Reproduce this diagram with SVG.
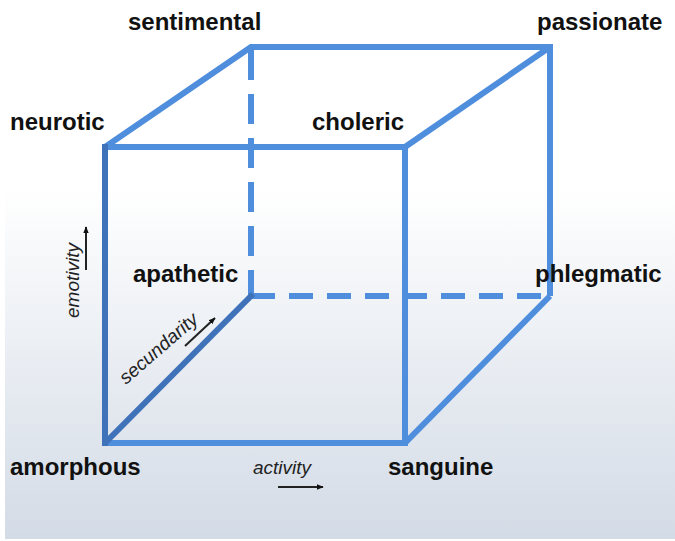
<svg xmlns="http://www.w3.org/2000/svg" width="675" height="541" viewBox="0 0 675 541">
<defs>
<linearGradient id="bg" x1="0" y1="0" x2="0" y2="1">
<stop offset="0" stop-color="#ffffff"/>
<stop offset="0.35" stop-color="#ffffff"/>
<stop offset="1" stop-color="#d3dbe6"/>
</linearGradient>
<marker id="arr" viewBox="0 0 10 10" refX="9" refY="5" markerWidth="3.5" markerHeight="3.5" orient="auto" markerUnits="strokeWidth">
<path d="M0,1 L10,5 L0,9 Z" fill="#111"/>
</marker>
<style>
.e{stroke:#4f8ddd;stroke-width:6;fill:none;stroke-linecap:butt;stroke-linejoin:miter}
.d{stroke:#3f72b8}
.lbl{font-family:"Liberation Sans",Arial,sans-serif;font-weight:bold;font-size:24px;fill:#111}
.ax{font-family:"Liberation Sans",Arial,sans-serif;font-style:italic;font-size:19px;fill:#222}
.ar{stroke:#222;stroke-width:2;fill:none;marker-end:url(#arr)}
</style>
</defs>
<rect x="0" y="0" width="675" height="541" fill="#ffffff"/>
<rect x="5" y="0" width="670" height="539" fill="url(#bg)"/>
<g id="connectors">
<line class="e" x1="251" y1="50" x2="251" y2="296" style="stroke-dasharray:30 14"/>
<line class="e" x1="251" y1="296" x2="550" y2="296" style="stroke-dasharray:24 14"/>
<path class="e" d="M105,147 L251,47 L550,47 L550,296"/>
<path class="e" d="M405,147 L550,47"/>
<path class="e" d="M405,443 L550,296"/>
<path class="e" d="M105,147 L405,147 L405,446"/>
<path class="e" d="M105,443 L405,443"/>
<line class="e d" x1="105" y1="144" x2="105" y2="446"/>
<line class="e d" x1="105" y1="443" x2="253" y2="294"/>
</g>
<g id="sentimental"><text class="lbl" x="128" y="30">sentimental</text></g>
<g id="passionate"><text class="lbl" x="537" y="30">passionate</text></g>
<g id="neurotic"><text class="lbl" x="10" y="130">neurotic</text></g>
<g id="choleric"><text class="lbl" x="312" y="130">choleric</text></g>
<g id="apathetic"><text class="lbl" x="133" y="282">apathetic</text></g>
<g id="phlegmatic"><text class="lbl" x="535" y="282">phlegmatic</text></g>
<g id="amorphous"><text class="lbl" x="10" y="475">amorphous</text></g>
<g id="sanguine"><text class="lbl" x="388" y="475">sanguine</text></g>
<g id="axes">
<text class="ax" transform="translate(79,318) rotate(-90)">emotivity</text>
<line class="ar" x1="86" y1="270" x2="86" y2="227"/>
<text class="ax" transform="translate(126,385) rotate(-41)">secundarity</text>
<line class="ar" x1="185" y1="346" x2="215" y2="318"/>
<text class="ax" x="253" y="474">activity</text>
<line class="ar" x1="278" y1="487" x2="323" y2="487"/>
</g>
</svg>
